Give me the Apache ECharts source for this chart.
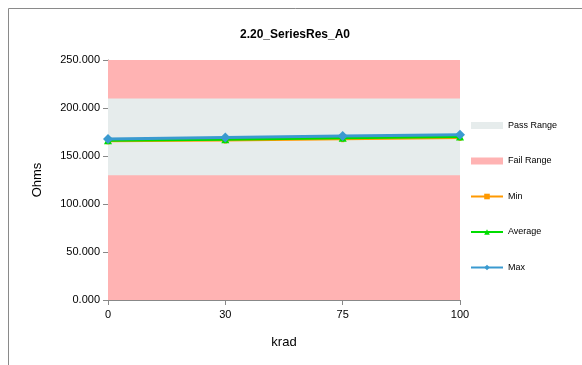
<!DOCTYPE html>
<html>
<head>
<meta charset="utf-8">
<script src="https://cdn.jsdelivr.net/npm/echarts@6/dist/echarts.min.js"></script>
<style>html,body{margin:0;padding:0;background:#fff;}#c{width:582px;height:365px;}</style>
</head>
<body>
<div id="c"></div>
<script>
var categories = ['0', '30', '75', '100'];
var minValues = [165.8, 166.6, 168.0, 169.4];
var avgValues = [166.4, 167.4, 168.9, 170.3];
var maxValues = [167.6, 169.2, 170.8, 172.2];
var passLow = [130, 130, 130, 130];
var passHigh = [210, 210, 210, 210];
var failTop = [250, 250, 250, 250];
var yTicks = [0, 50, 100, 150, 200, 250];

var passBand = passHigh.map(function (v, i) { return v - passLow[i]; });
var font = 'Liberation Sans, Arial, sans-serif';

var chart = echarts.init(document.getElementById('c'));
chart.setOption({
  animation: false,
  textStyle: { fontFamily: font },
  title: {
    text: '2.20_SeriesRes_A0',
    left: 290, textAlign: 'center', top: 24,
    textStyle: { fontSize: 12, fontWeight: 'bold', color: '#000', fontFamily: font }
  },
  graphic: [{
    type: 'rect', silent: true,
    shape: { x: 8.5, y: 8.5, width: 700, height: 600 },
    style: { fill: 'none', stroke: '#8a8a8a', lineWidth: 1 }
  }],
  grid: { left: 108, right: 122, top: 60, bottom: 65 },
  legend: {
    orient: 'vertical', left: 465, top: 116,
    itemWidth: 32, itemHeight: 7, itemGap: 26.5,
    textStyle: { fontSize: 9, color: '#000', fontFamily: font },
    data: [
      { name: 'Pass Range', icon: 'rect' },
      { name: 'Fail Range', icon: 'rect' },
      'Min', 'Average', 'Max'
    ]
  },
  xAxis: {
    type: 'category', data: categories, boundaryGap: false,
    name: 'krad', nameLocation: 'middle', nameGap: 36,
    nameTextStyle: { fontSize: 13, color: '#000' },
    axisLine: { lineStyle: { color: '#888' } },
    axisTick: { alignWithLabel: true, lineStyle: { color: '#888' } },
    axisLabel: { fontSize: 11, color: '#000', margin: 9 },
    splitLine: { show: false }
  },
  yAxis: {
    type: 'value', min: yTicks[0], max: yTicks[yTicks.length - 1], interval: 50,
    name: 'Ohms', nameLocation: 'middle', nameGap: 64,
    nameTextStyle: { fontSize: 13, color: '#000' },
    axisLine: { show: true, lineStyle: { color: '#888' } },
    axisTick: { show: true, lineStyle: { color: '#888' } },
    axisLabel: { fontSize: 11, color: '#000', formatter: function (v) { return v.toFixed(3); } },
    splitLine: { show: false }
  },
  series: [
    {
      name: 'Fail Range', type: 'line', data: failTop, symbol: 'none',
      itemStyle: { color: '#FFB3B3' }, lineStyle: { width: 0 },
      areaStyle: { color: '#FFB3B3', opacity: 1 }, z: 1
    },
    {
      name: 'base', type: 'line', stack: 'pass', data: passLow, symbol: 'none',
      lineStyle: { width: 0 }, itemStyle: { color: 'transparent' }, z: 2
    },
    {
      name: 'Pass Range', type: 'line', stack: 'pass', data: passBand, symbol: 'none',
      itemStyle: { color: '#E6ECEC' }, lineStyle: { width: 0 },
      areaStyle: { color: '#E6ECEC', opacity: 1 }, z: 2
    },
    {
      name: 'Min', type: 'line', data: minValues, symbol: 'rect', symbolSize: [3, 7],
      itemStyle: { color: '#FF9900' }, lineStyle: { width: 3, color: '#FF9900' }, z: 5
    },
    {
      name: 'Average', type: 'line', data: avgValues, symbol: 'triangle', symbolSize: 8,
      itemStyle: { color: '#00DD00' }, lineStyle: { width: 3, color: '#00DD00' }, z: 6
    },
    {
      name: 'Max', type: 'line', data: maxValues, symbol: 'diamond', symbolSize: 10,
      itemStyle: { color: '#3A9AD0' }, lineStyle: { width: 3, color: '#3A9AD0' }, z: 7
    }
  ]
});
</script>
</body>
</html>
